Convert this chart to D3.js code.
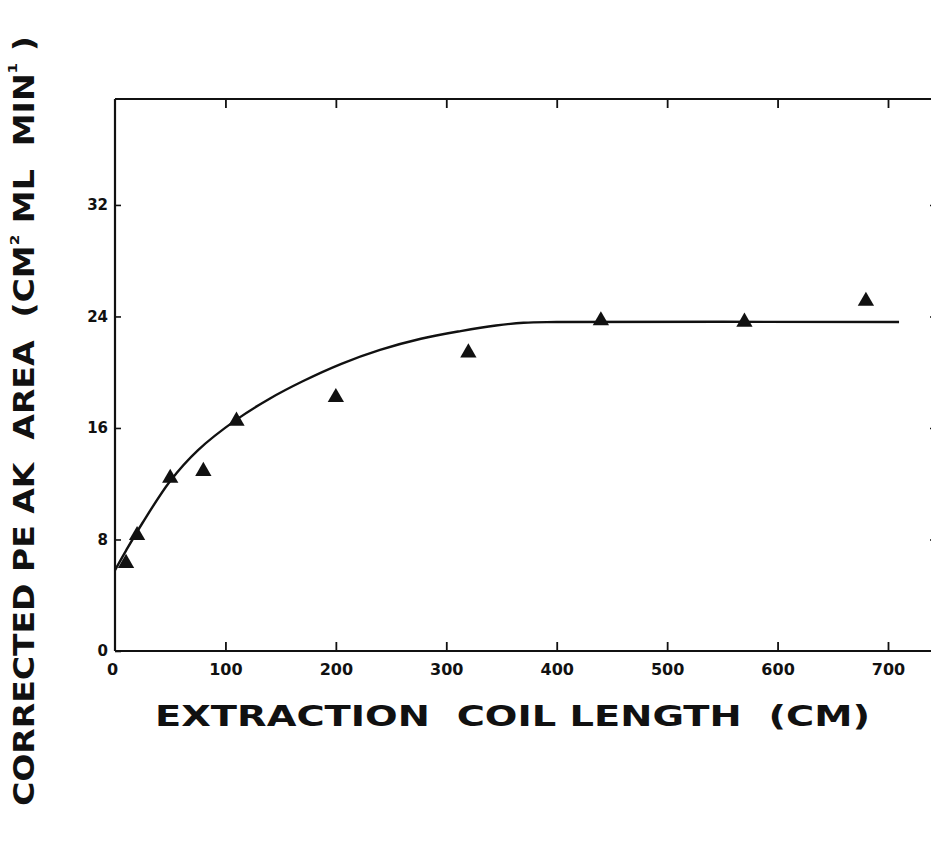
<!DOCTYPE html>
<html>
<head>
<meta charset="utf-8">
<script src="https://cdn.jsdelivr.net/npm/d3@7"></script>
<style>
  html, body { margin: 0; padding: 0; background: #fff; }
  svg { display: block; }
  text { font-family: "DejaVu Sans", sans-serif; font-weight: bold; fill: #111; }
</style>
</head>
<body>
<svg id="chart" width="931" height="841"></svg>
<script>
// Measured peak areas for each extraction coil length
const coilLength = [10, 20, 50, 80, 110, 200, 320, 440, 570, 680];
const peakArea   = [6.3, 8.3, 12.4, 12.9, 16.5, 18.2, 21.4, 23.7, 23.6, 25.1];

// Hand-drawn trend curve through the data (rises, then levels off)
const curveX = [0, 10, 25, 50, 75, 110, 140, 170, 205, 240, 277, 313, 345, 370, 400, 710];
const curveY = [5.8, 7.2, 9.2, 12.2, 14.4, 16.6, 18.1, 19.35, 20.6, 21.6, 22.4, 22.95, 23.35, 23.55, 23.6, 23.6];

const xTicks = [0, 100, 200, 300, 400, 500, 600, 700];
const yTicks = [0, 8, 16, 24, 32];

const svg = d3.select("#chart");
const x = d3.scaleLinear().domain([0, 700]).range([115, 888]);
const y = d3.scaleLinear().domain([0, 39.6]).range([651, 99]);
const xRight = 936;

const ink = "#111";

// frame: left, top, bottom, right
const frame = svg.append("g").attr("stroke", ink).attr("fill", "none");
frame.append("line").attr("x1", x(0)).attr("x2", x(0)).attr("y1", y(39.6)).attr("y2", y(0)).attr("stroke-width", 2.2);
frame.append("line").attr("x1", x(0)).attr("x2", xRight).attr("y1", y(39.6)).attr("y2", y(39.6)).attr("stroke-width", 2);
frame.append("line").attr("x1", x(0)).attr("x2", xRight).attr("y1", y(0)).attr("y2", y(0)).attr("stroke-width", 1.8);
frame.append("line").attr("x1", xRight).attr("x2", xRight).attr("y1", y(39.6)).attr("y2", y(0)).attr("stroke-width", 2);

// bottom axis: inward ticks and labels
const xAxisBottom = d3.axisBottom(x).tickValues(xTicks).tickSize(-9).tickPadding(13).tickFormat(d3.format("d"));
const gxb = svg.append("g").attr("transform", `translate(0,${y(0)})`).call(xAxisBottom);
gxb.select(".domain").remove();
gxb.selectAll(".tick line").attr("stroke", ink).attr("stroke-width", 1.8);
gxb.selectAll(".tick").filter(d => d === 0).select("line").remove();
gxb.selectAll(".tick text").attr("font-size", 16).attr("font-family", "DejaVu Sans").attr("font-weight", "bold").attr("fill", ink);
gxb.selectAll(".tick").filter(d => d === 0).select("text").attr("dx", -3);

// top axis: inward ticks only
const xAxisTop = d3.axisTop(x).tickValues(xTicks.filter(d => d > 0)).tickSize(-9).tickFormat("");
const gxt = svg.append("g").attr("transform", `translate(0,${y(39.6)})`).call(xAxisTop);
gxt.select(".domain").remove();
gxt.selectAll(".tick line").attr("stroke", ink).attr("stroke-width", 1.8);

// left axis: inward ticks and labels
const yAxisLeft = d3.axisLeft(y).tickValues(yTicks).tickSize(-6).tickPadding(7).tickFormat(d3.format("d"));
const gyl = svg.append("g").attr("transform", `translate(${x(0)},0)`).call(yAxisLeft);
gyl.select(".domain").remove();
gyl.selectAll(".tick line").attr("stroke", ink).attr("stroke-width", 1.6);
gyl.selectAll(".tick text").attr("font-size", 15).attr("font-family", "DejaVu Sans").attr("font-weight", "bold").attr("fill", ink);

// right axis: inward ticks
const yAxisRight = d3.axisRight(y).tickValues(yTicks.filter(d => d > 0)).tickSize(-6).tickFormat("");
const gyr = svg.append("g").attr("transform", `translate(${xRight},0)`).call(yAxisRight);
gyr.select(".domain").remove();
gyr.selectAll(".tick line").attr("stroke", ink).attr("stroke-width", 1.6);

// trend curve
const curvePts = curveX.map((v, i) => [v, curveY[i]]);
svg.append("path")
  .datum(curvePts)
  .attr("fill", "none")
  .attr("stroke", ink)
  .attr("stroke-width", 2.4)
  .attr("d", d3.line().x(d => x(d[0])).y(d => y(d[1])).curve(d3.curveCatmullRom.alpha(0.5)));

// data markers
const tri = d3.symbol().type(d3.symbolTriangle).size(115);
svg.append("g").selectAll("path")
  .data(coilLength.map((v, i) => [v, peakArea[i]]))
  .join("path")
  .attr("d", tri)
  .attr("fill", ink)
  .attr("transform", d => `translate(${x(d[0])},${y(d[1])})`);

// axis titles
svg.append("text")
  .attr("x", 155).attr("y", 726)
  .attr("font-size", 29)
  .attr("textLength", 715).attr("lengthAdjust", "spacingAndGlyphs")
  .attr("xml:space", "preserve")
  .text("EXTRACTION  COIL LENGTH  (CM)");

const yTitle = svg.append("text")
  .attr("transform", "translate(34,806) rotate(-90) scale(1.18,1)")
  .attr("font-size", 28)
  .attr("xml:space", "preserve");
yTitle.append("tspan").text("CORRECTED PE AK  AREA  (CM");
yTitle.append("tspan").attr("font-size", 13).attr("dy", -15).text("2");
yTitle.append("tspan").attr("dy", 15).text(" ML  MIN");
yTitle.append("tspan").attr("font-size", 13).attr("dy", -17).text("1");
yTitle.append("tspan").attr("dy", 17).text(" )");
</script>
</body>
</html>
